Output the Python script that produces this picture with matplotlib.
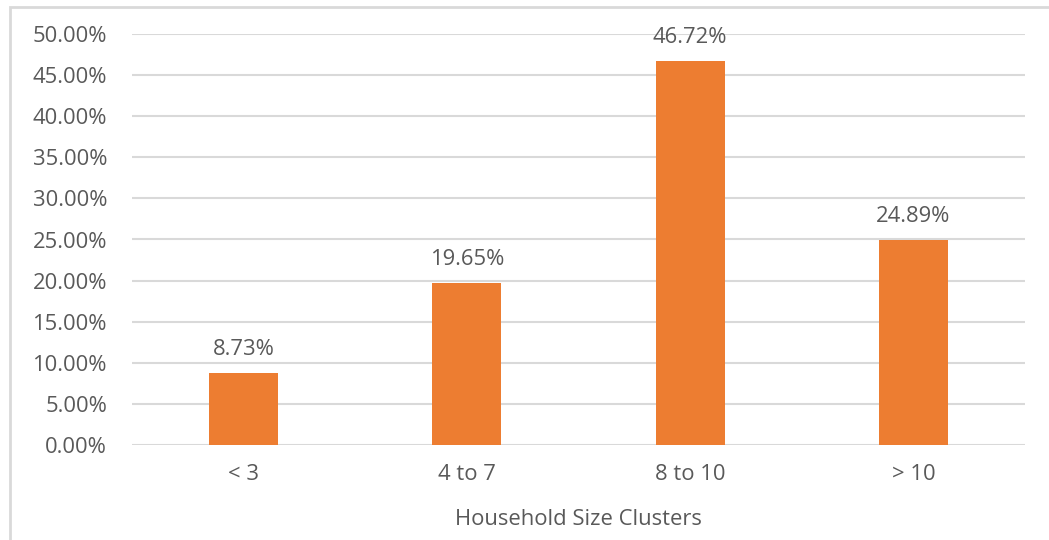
import matplotlib
matplotlib.use("Agg")
import matplotlib.pyplot as plt
from matplotlib.patches import Rectangle
from matplotlib.ticker import FuncFormatter, MultipleLocator

categories = ["< 3", "4 to 7", "8 to 10", "> 10"]
shares = [8.73, 19.65, 46.72, 24.89]
x_label = "Household Size Clusters"

W, H = 1049, 540
fig = plt.figure(figsize=(W / 100, H / 100), dpi=100)
plt.rcParams["font.family"] = ["Open Sans", "DejaVu Sans"]

text_color = "#595959"
grid_color = "#D9D9D9"
bar_color = "#ED7D31"
fs = 15.8

# outer chart frame (left and top edges visible)
fig.patches.append(Rectangle((10 / W, -0.05), 1.2, (H - 7) / H + 0.05,
                             transform=fig.transFigure, fill=False,
                             edgecolor=grid_color, linewidth=2))

ax = fig.add_axes([132 / W, 95 / H, (1025 - 132) / W, (445 - 34) / H])
xs = range(len(categories))
ax.bar(xs, shares, width=0.31, color=bar_color, zorder=3)
ax.set_xlim(-0.5, len(categories) - 0.5)
ax.set_ylim(0, 50)
ax.yaxis.set_major_locator(MultipleLocator(5))
ax.yaxis.set_major_formatter(FuncFormatter(lambda v, _: f"{v:.2f}%"))
ax.grid(axis="y", color=grid_color, linewidth=1.5, zorder=0)
ax.set_axisbelow(True)
for s in ax.spines.values():
    s.set_visible(False)
ax.tick_params(axis="both", length=0, labelsize=fs, labelcolor=text_color)
ax.tick_params(axis="y", pad=18)
ax.tick_params(axis="x", pad=14)
ax.set_xticks(list(xs))
ax.set_xticklabels(categories)
ax.set_xlabel(x_label, fontsize=fs, color=text_color, labelpad=17)

for x, v in zip(xs, shares):
    ax.annotate(f"{v:.2f}%", (x, v), xytext=(0, 13), textcoords="offset points",
                ha="center", va="baseline", fontsize=fs, color=text_color,
                zorder=4)

fig.savefig("out.png", dpi=100)
